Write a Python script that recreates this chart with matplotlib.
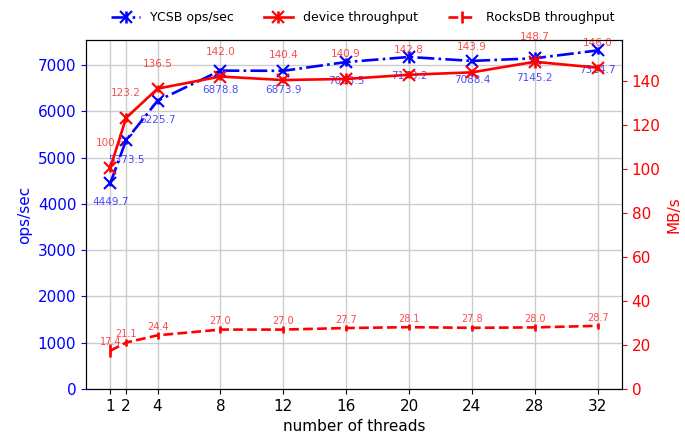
import matplotlib
matplotlib.use("Agg")
import matplotlib.pyplot as plt
import numpy as np

threads = [1, 2, 4, 8, 12, 16, 20, 24, 28, 32]
ycsb_ops = [4449.7, 5373.5, 6225.7, 6878.8, 6873.9, 7063.5, 7173.2, 7088.4, 7145.2, 7314.7]
ycsb_err = [60, 80, 60, 60, 50, 90, 130, 50, 130, 80]
device_tp = [100.6, 123.2, 136.5, 142.0, 140.4, 140.9, 142.8, 143.9, 148.7, 146.0]
device_err = [2.0, 2.0, 1.5, 1.5, 1.5, 2.5, 1.5, 1.5, 3.0, 1.5]
rocks_tp = [17.4, 21.1, 24.4, 27.0, 27.0, 27.7, 28.1, 27.8, 28.0, 28.7]
rocks_err = [3.0, 1.5, 1.5, 1.5, 1.5, 1.5, 1.5, 1.5, 1.5, 1.5]
xticks = [1, 2, 4, 8, 12, 16, 20, 24, 28, 32]

fig = plt.figure(figsize=(6.85, 4.41), dpi=100)
ax1 = fig.add_axes([86/685, 1 - 389/441, (622-86)/685, (389-40)/441])
ax2 = ax1.twinx()

h1 = ax1.errorbar(threads, ycsb_ops, yerr=ycsb_err, color='blue', linestyle='-.',
                  marker='x', markersize=8, markeredgewidth=1.5, linewidth=1.9,
                  label='YCSB ops/sec', zorder=3)
h2 = ax2.errorbar(threads, device_tp, yerr=device_err, color='red', linestyle='-',
                  marker='x', markersize=8, markeredgewidth=1.5, linewidth=1.9,
                  label='device throughput', zorder=3)
h3 = ax2.errorbar(threads, rocks_tp, yerr=rocks_err, color='red', linestyle='--',
                  linewidth=1.9, label='RocksDB throughput', zorder=3)

for x, y in zip(threads, ycsb_ops):
    ax1.annotate(f"{y:.1f}", (x, y), xytext=(0, -14), textcoords='offset points',
                 ha='center', va='center', fontsize=7.5, color='blue', alpha=0.7, zorder=1)
for x, y in zip(threads, device_tp):
    ax2.annotate(f"{y:.1f}", (x, y), xytext=(0, 18), textcoords='offset points',
                 ha='center', va='center', fontsize=7.5, color='red', alpha=0.7, zorder=1)
for x, y in zip(threads, rocks_tp):
    ax2.annotate(f"{y:.1f}", (x, y), xytext=(0, 6), textcoords='offset points',
                 ha='center', va='center', fontsize=7, color='red', alpha=0.7, zorder=1)

ax1.set_ylim(0, 7540)
ax2.set_ylim(0, 158.6)
ax1.set_xlim(-0.55, 33.55)
ax1.set_xticks(xticks)
ax1.set_yticks(np.arange(0, 7001, 1000))
ax2.set_yticks(np.arange(0, 141, 20))
ax1.grid(True, color='#cccccc', linewidth=1)
ax1.set_axisbelow(True)

ax1.tick_params(axis='x', labelsize=11)
ax1.tick_params(axis='y', colors='blue', labelsize=11)
ax2.tick_params(axis='y', colors='red', labelsize=11)
ax1.set_xlabel('number of threads', fontsize=11)
ax1.set_ylabel('ops/sec', color='blue', fontsize=11)
ax2.set_ylabel('MB/s', color='red', fontsize=11)

fig.legend(handles=[h1, h2, h3], loc='upper center', ncol=3, frameon=False,
           bbox_to_anchor=(363/685, 1.0), fontsize=9, handlelength=2.3,
           columnspacing=2.4)

fig.savefig('out.png', dpi=100)
